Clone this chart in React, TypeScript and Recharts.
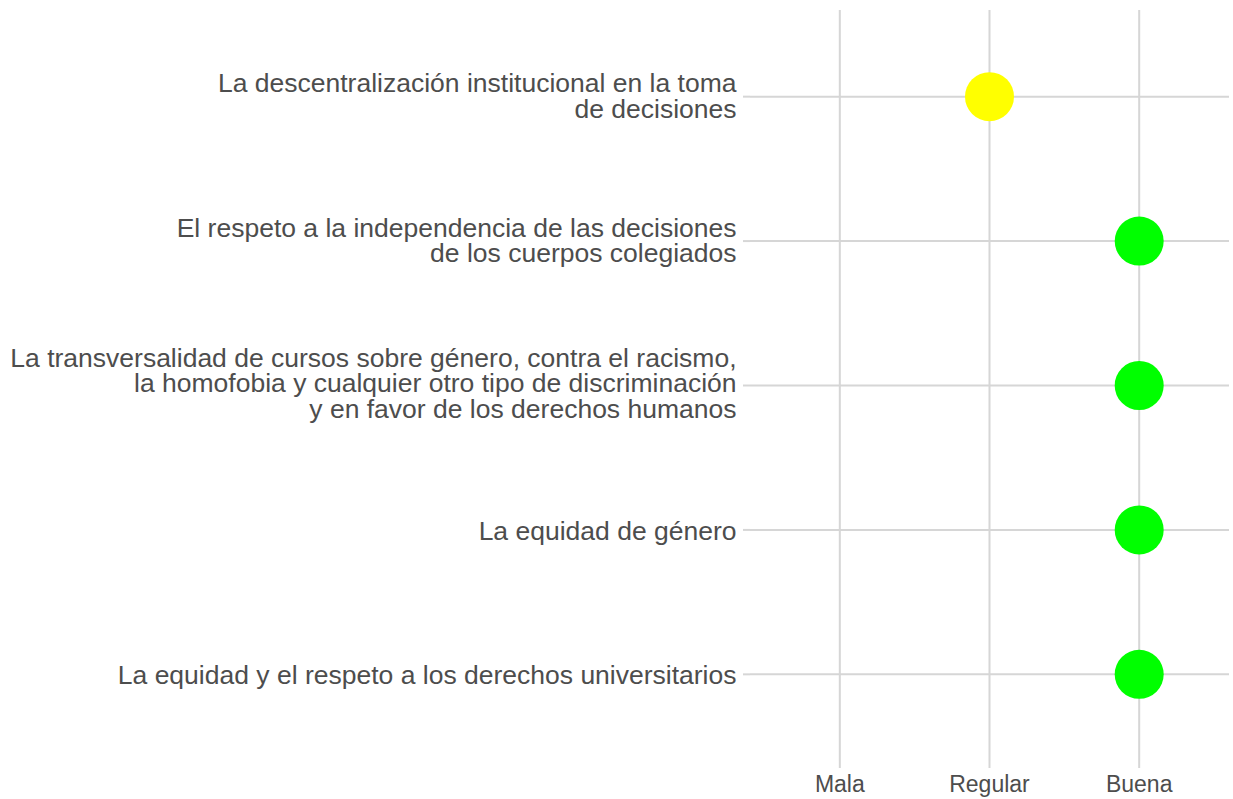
import { ScatterChart, Scatter, XAxis, YAxis, CartesianGrid, Cell } from "recharts";

const categories = [
  ["La descentralización institucional en la toma", "de decisiones"],
  ["El respeto a la independencia de las decisiones", "de los cuerpos colegiados"],
  [
    "La transversalidad de cursos sobre género, contra el racismo,",
    "la homofobia y cualquier otro tipo de discriminación",
    "y en favor de los derechos humanos",
  ],
  ["La equidad de género"],
  ["La equidad y el respeto a los derechos universitarios"],
];
const ratingLabels = ["Mala", "Regular", "Buena"];
const ratings = ["Regular", "Buena", "Buena", "Buena", "Buena"];
const ratingColors: Record<string, string> = {
  Mala: "#FF0000",
  Regular: "#FFFF00",
  Buena: "#00FF00",
};

const xTicks = [1, 2, 3];
const yTicks = [1, 2, 3, 4, 5];
const X_DOMAIN: [number, number] = [0.4, 3.6];
const Y_DOMAIN: [number, number] = [0.4, 5.6];

const data = categories.map((c, i) => ({
  y: i + 1,
  x: ratingLabels.indexOf(ratings[i]) + 1,
  rating: ratings[i],
}));

const GRID = "#d6d6d6";
const TEXT = "#4d4d4d";
const FONT = "'Liberation Sans', Arial, sans-serif";

function YTick({ x, y, payload }: any) {
  const lines = categories[payload.value - 1] || [];
  const lh = 25.5;
  const base = 10 - (lines.length - 1) * 1.6;
  return (
    <text x={x} y={y} textAnchor="end" fill={TEXT} fontSize={26.5} fontFamily={FONT}>
      {lines.map((l, i) => (
        <tspan key={i} x={x} y={y + base + (i - (lines.length - 1) / 2) * lh}>
          {l}
        </tspan>
      ))}
    </text>
  );
}

function XTick({ x, y, payload }: any) {
  return (
    <text x={x} y={y + 24} textAnchor="middle" fill={TEXT} fontSize={23} fontFamily={FONT}>
      {ratingLabels[payload.value - 1]}
    </text>
  );
}

// only grid lines at the tick values, no border lines at the domain edges
const vertGen = ({ xAxis, offset }: any) =>
  xTicks.map((v) =>
    xAxis && typeof xAxis.scale === "function"
      ? xAxis.scale(v)
      : offset.left + (offset.width * (v - X_DOMAIN[0])) / (X_DOMAIN[1] - X_DOMAIN[0])
  );
const horzGen = ({ yAxis, offset }: any) =>
  yTicks.map((v) =>
    yAxis && typeof yAxis.scale === "function"
      ? yAxis.scale(v)
      : offset.top + (offset.height * (v - Y_DOMAIN[0])) / (Y_DOMAIN[1] - Y_DOMAIN[0])
  );

export default function App() {
  return (
    <div style={{ position: "absolute", left: 0, top: 0, background: "#fff" }}>
      <ScatterChart width={1233} height={799} margin={{ top: 10, right: 4, bottom: 0, left: 0 }}>
        <CartesianGrid
          stroke={GRID}
          strokeWidth={2}
          verticalCoordinatesGenerator={vertGen}
          horizontalCoordinatesGenerator={horzGen}
        />
        <XAxis
          type="number"
          dataKey="x"
          domain={X_DOMAIN}
          ticks={xTicks}
          height={38}
          axisLine={false}
          tickSize={7}
          tickMargin={0}
          tickLine={{ stroke: GRID, strokeWidth: 2 }}
          tick={<XTick />}
          interval={0}
        />
        <YAxis
          type="number"
          dataKey="y"
          domain={Y_DOMAIN}
          ticks={yTicks}
          reversed
          width={750}
          axisLine={false}
          tickSize={7}
          tickMargin={6.5}
          tickLine={{ stroke: GRID, strokeWidth: 2 }}
          tick={<YTick />}
          interval={0}
        />
        <Scatter
          data={data}
          isAnimationActive={false}
          shape={(p: any) => <circle cx={p.cx} cy={p.cy} r={24.5} fill={p.fill} />}
        >
          {data.map((d, i) => (
            <Cell key={i} fill={ratingColors[d.rating]} />
          ))}
        </Scatter>
      </ScatterChart>
    </div>
  );
}
